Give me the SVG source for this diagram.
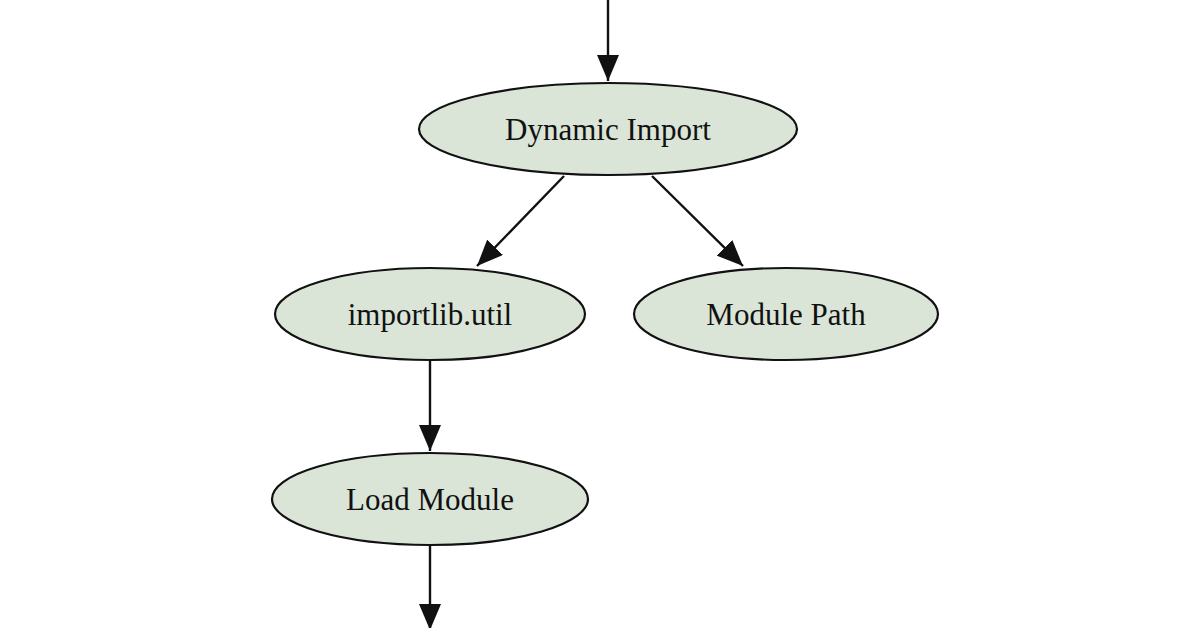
<svg xmlns="http://www.w3.org/2000/svg" width="1196" height="628" viewBox="0 0 1196 628">
<style>
.n ellipse{fill:#dae5d7;stroke:#111;stroke-width:2.2}
.n text{font-family:"Liberation Serif",serif;font-size:31px;fill:#111;text-anchor:middle;dominant-baseline:central}
.e line{stroke:#111;stroke-width:2.4;marker-end:url(#a)}
</style>
<defs><marker id="a" markerWidth="26" markerHeight="22" refX="26" refY="11" orient="auto" markerUnits="userSpaceOnUse" viewBox="0 0 26 22"><path d="M0,0 L26,11 L0,22 z" fill="#111"/></marker></defs>
<rect width="1196" height="628" fill="#fff"/>
<g id="edges" class="e">
<line x1="608" y1="0" x2="608" y2="81"/>
<line x1="564" y1="176" x2="477" y2="266"/>
<line x1="652" y1="176" x2="743" y2="266"/>
<line x1="430" y1="361" x2="430" y2="451"/>
<line x1="430" y1="546" x2="430" y2="630"/>
</g>
<g id="dynamic" class="n"><ellipse cx="608" cy="129" rx="189" ry="46"/><text x="608" y="129">Dynamic Import</text></g>
<g id="importlib" class="n"><ellipse cx="430" cy="314" rx="155" ry="46"/><text x="430" y="314">importlib.util</text></g>
<g id="modpath" class="n"><ellipse cx="786" cy="314" rx="152" ry="46"/><text x="786" y="314">Module Path</text></g>
<g id="load" class="n"><ellipse cx="430" cy="499" rx="158" ry="46"/><text x="430" y="499">Load Module</text></g>
</svg>
